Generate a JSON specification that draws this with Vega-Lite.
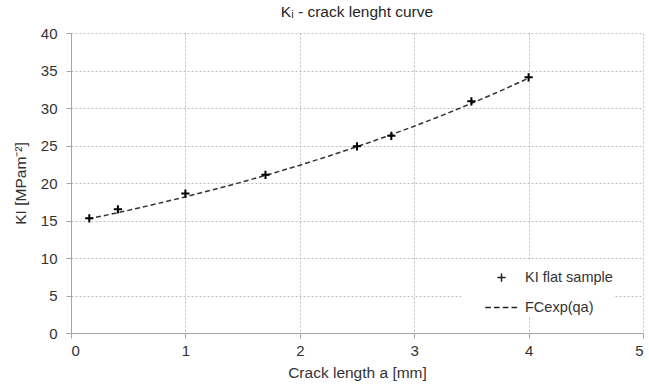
{
  "$schema": "https://vega.github.io/schema/vega-lite/v6.json",
  "width": 572,
  "height": 300,
  "autosize": "none",
  "padding": {"left": 71, "top": 33, "right": 6, "bottom": 52},
  "background": "white",
  "title": {"text": "Kᵢ - crack lenght curve", "fontSize": 15.5, "font": "Liberation Sans", "fontWeight": "normal", "color": "#262626", "offset": 6, "anchor": "middle"},
  "config": {
    "view": {"stroke": null},
    "font": "Liberation Sans",
    "axis": {
      "labelFont": "Liberation Sans", "labelFontSize": 15, "labelColor": "#333333",
      "titleFont": "Liberation Sans", "titleFontSize": 15.5, "titleColor": "#333333", "titleFontWeight": "normal",
      "gridColor": "#bdbdbd", "gridDash": [2, 2], "gridWidth": 1,
      "domainColor": "#a6a6a6", "tickColor": "#a6a6a6", "tickSize": 5
    }
  },
  "datasets": {
    "samples": [
      {"a": 0.16, "KI": 15.3, "series": "KI flat sample"},
      {"a": 0.41, "KI": 16.5, "series": "KI flat sample"},
      {"a": 1.0, "KI": 18.6, "series": "KI flat sample"},
      {"a": 1.7, "KI": 21.1, "series": "KI flat sample"},
      {"a": 2.5, "KI": 24.9, "series": "KI flat sample"},
      {"a": 2.8, "KI": 26.3, "series": "KI flat sample"},
      {"a": 3.5, "KI": 30.9, "series": "KI flat sample"},
      {"a": 4.0, "KI": 34.1, "series": "KI flat sample"}
    ],
    "fit": [
      {"a": 0.15, "KI": 15.2}, {"a": 0.25, "KI": 15.52}, {"a": 0.5, "KI": 16.35},
      {"a": 0.75, "KI": 17.23}, {"a": 1.0, "KI": 18.15}, {"a": 1.25, "KI": 19.13},
      {"a": 1.5, "KI": 20.15}, {"a": 1.75, "KI": 21.23}, {"a": 2.0, "KI": 22.37},
      {"a": 2.25, "KI": 23.57}, {"a": 2.5, "KI": 24.84}, {"a": 2.75, "KI": 26.17},
      {"a": 3.0, "KI": 27.57}, {"a": 3.25, "KI": 29.05}, {"a": 3.5, "KI": 30.61},
      {"a": 3.75, "KI": 32.25}, {"a": 4.0, "KI": 33.98}
    ]
  },
  "encoding": {
    "x": {"field": "a", "type": "quantitative", "scale": {"domain": [0, 5], "nice": false},
      "axis": {"title": "Crack length a [mm]", "values": [0, 1, 2, 3, 4, 5], "titlePadding": 7, "labelPadding": 5}},
    "y": {"field": "KI", "type": "quantitative", "scale": {"domain": [0, 40], "nice": false},
      "axis": {"title": "KI [MPam⁻²]", "values": [0, 5, 10, 15, 20, 25, 30, 35, 40], "titlePadding": 12, "labelPadding": 9}}
  },
  "layer": [
    {
      "data": {"name": "fit"},
      "mark": {"type": "line", "color": "#333333", "strokeDash": [5, 3], "strokeWidth": 1.5}
    },
    {
      "data": {"name": "samples"},
      "mark": {"type": "point", "filled": false, "stroke": "black", "strokeWidth": 2, "size": 625, "opacity": 1},
      "encoding": {
        "shape": {
          "field": "series", "type": "nominal",
          "scale": {"domain": ["KI flat sample", "FCexp(qa)"], "range": ["M-0.33,0H0.33M0,-0.33V0.33", "M-1.3,0H-0.85M-0.6,0H-0.15M0.1,0H0.55M0.8,0H1.25"]},
          "legend": {
            "title": null, "orient": "none", "legendX": 391, "legendY": 229,
            "fillColor": "white", "padding": 2, "rowPadding": 9, "symbolOffset": 24,
            "symbolSize": 625, "symbolStrokeColor": "#222222", "symbolFillColor": "transparent", "symbolStrokeWidth": 1.5,
            "labelFont": "Liberation Sans", "labelFontSize": 14.5, "labelColor": "#333333", "labelOffset": 10
          }
        }
      }
    }
  ]
}
